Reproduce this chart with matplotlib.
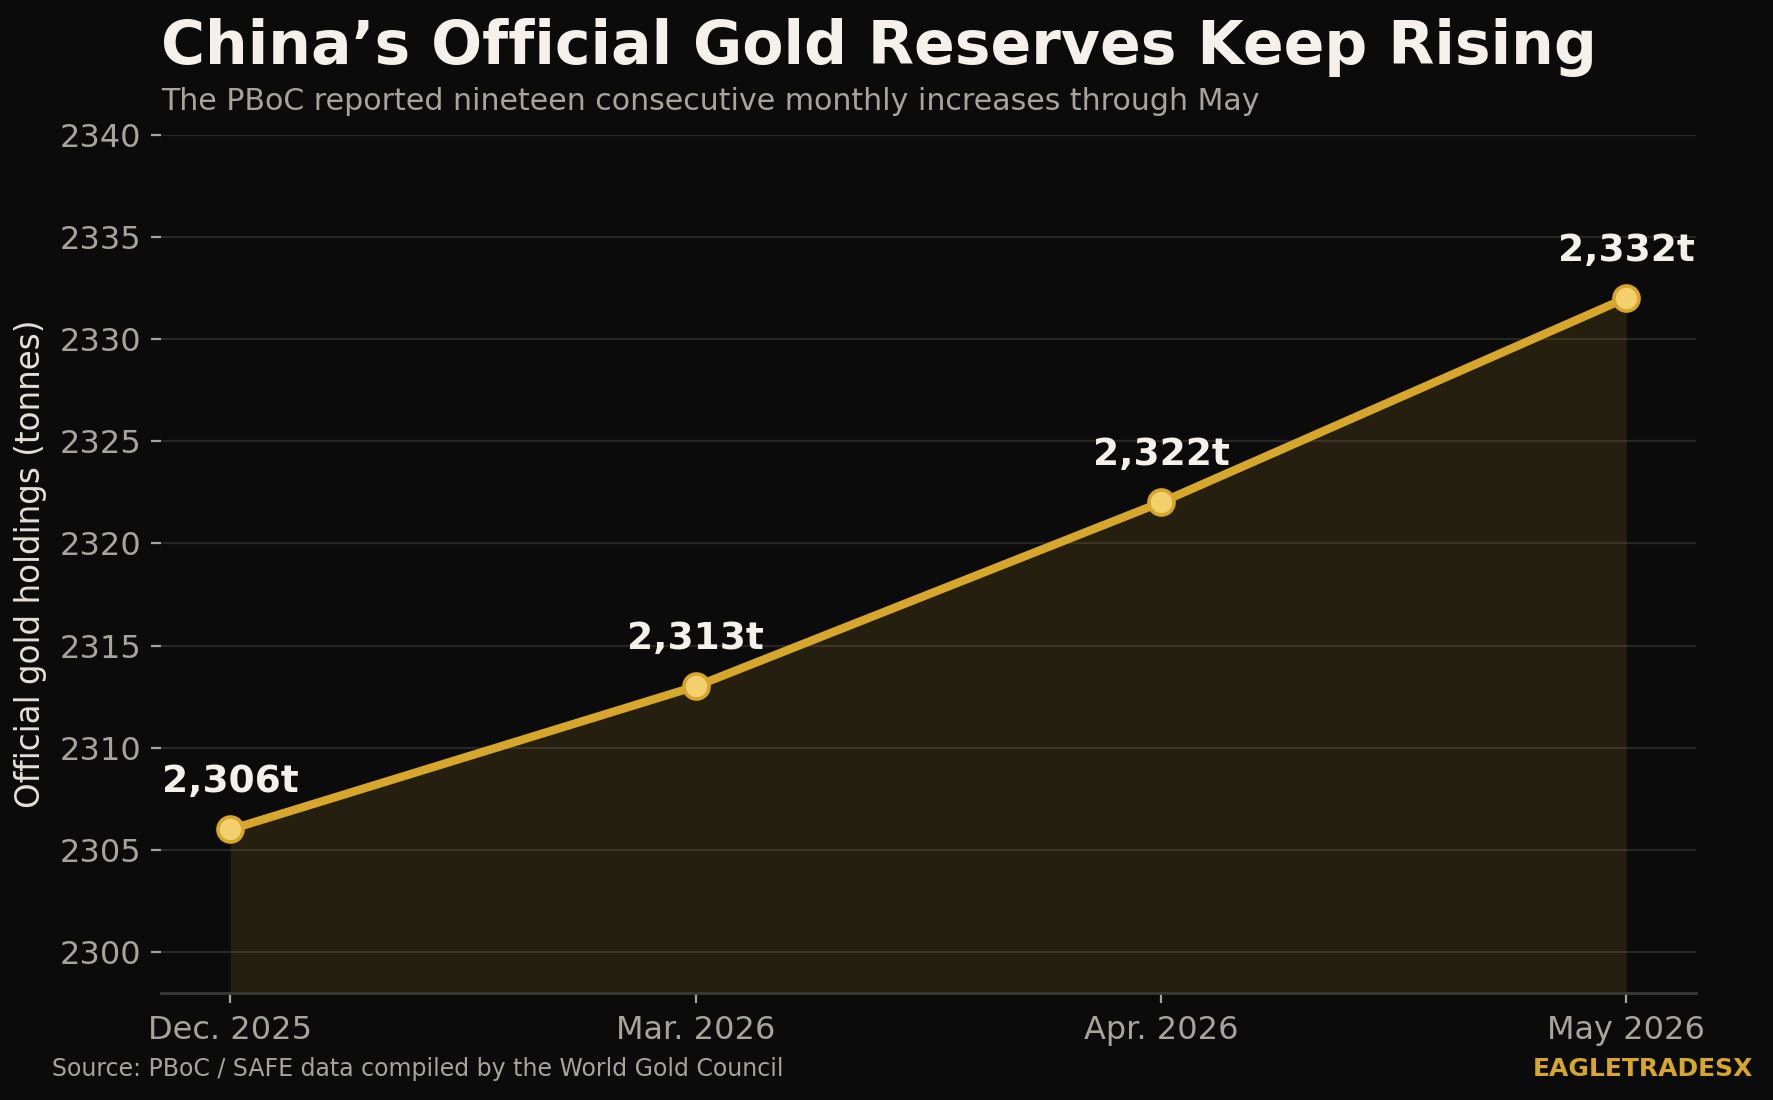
import matplotlib
matplotlib.use("Agg")
import matplotlib.pyplot as plt

months = ["Dec. 2025", "Mar. 2026", "Apr. 2026", "May 2026"]
holdings = [2306, 2313, 2322, 2332]
labels = ["2,306t", "2,313t", "2,322t", "2,332t"]
yticks = [2300, 2305, 2310, 2315, 2320, 2325, 2330, 2335, 2340]

BG = "#0b0b0b"
GOLD = "#d6a72a"
MFACE = "#f3cf6e"
CREAM = "#f5f1ea"
GRAY = "#a9a49b"

plt.rcParams["font.family"] = ["DejaVu Sans"]
fig = plt.figure(figsize=(8.865, 5.5), dpi=200, facecolor=BG)
ax = fig.add_axes([0.0906, 0.0973, 0.866, 0.7804], facecolor=BG)

x = list(range(len(months)))
ax.fill_between(x, holdings, 2298, color=GOLD, alpha=0.13, linewidth=0.8,
                edgecolor="#2e2812", zorder=1)
ax.plot(x, holdings, color=GOLD, linewidth=3, marker="o", markersize=9,
        markerfacecolor=MFACE, markeredgecolor=GOLD, markeredgewidth=1.3,
        zorder=3, solid_capstyle="round")
for xi, yi, lab in zip(x, holdings, labels):
    ax.annotate(lab, (xi, yi), xytext=(0, 13.5), textcoords="offset points",
                ha="center", va="baseline", fontsize=13.5, fontweight="bold",
                color=CREAM, zorder=4)

ax.set_xlim(-0.15, 3.15)
ax.set_ylim(2298, 2340)
ax.set_xticks(x)
ax.set_xticklabels(months)
ax.set_yticks(yticks)
ax.grid(axis="y", color="#262622", linewidth=0.8, zorder=0)
ax.set_axisbelow(True)
for s in ["top", "right", "left"]:
    ax.spines[s].set_visible(False)
ax.spines["bottom"].set_color("#3a3a37")
ax.spines["bottom"].set_linewidth(1.0)
ax.tick_params(axis="both", colors=GRAY, labelsize=11.5, length=3.5, width=0.8)
ax.tick_params(axis="x", pad=4.5)
ax.set_ylabel("Official gold holdings (tonnes)", color="#e6e1d8", fontsize=11.75)
ax.yaxis.set_label_coords(-0.074, 0.5)

fig.text(0.0906, 0.942, "China\u2019s Official Gold Reserves Keep Rising",
         fontsize=21.6, fontweight="bold", color=CREAM, ha="left", va="baseline")
fig.text(0.0906, 0.9, "The PBoC reported nineteen consecutive monthly increases through May",
         fontsize=10.8, color=GRAY, ha="left", va="baseline")
fig.text(0.0295, 0.028, "Source: PBoC / SAFE data compiled by the World Gold Council",
         fontsize=8.5, color=GRAY, ha="left", va="center")
fig.text(0.989, 0.028, "EAGLETRADESX", fontsize=9, fontweight="bold",
         color=GOLD, ha="right", va="center")

fig.savefig("out.png", dpi=200, facecolor=BG)
